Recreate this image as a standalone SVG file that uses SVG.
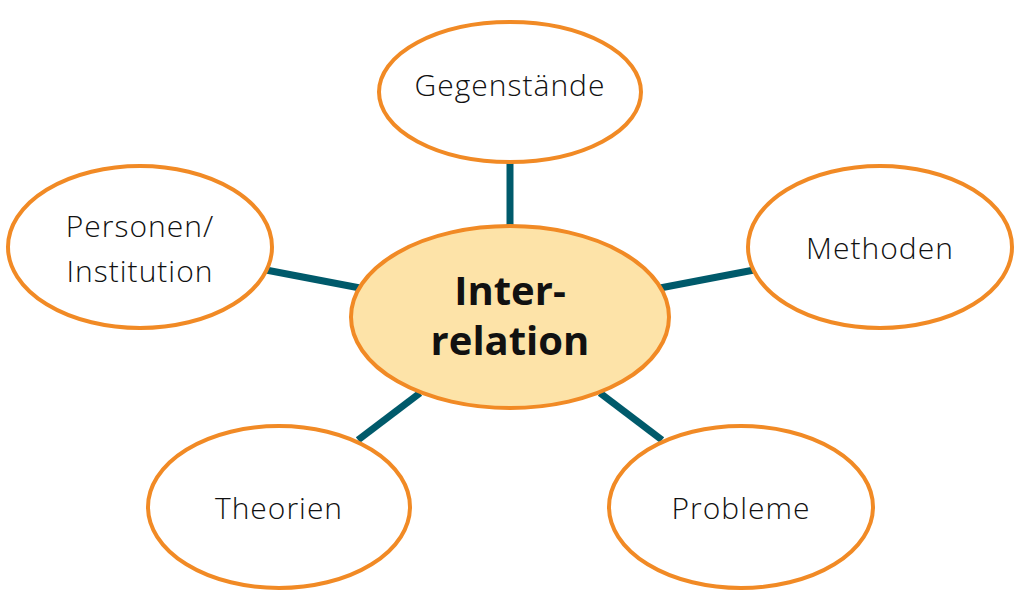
<svg xmlns="http://www.w3.org/2000/svg" width="1024" height="590" viewBox="0 0 1024 590">
<style>
.n{fill:#fff;stroke:#f18a25;stroke-width:4}
.c{fill:#fde3a8;stroke:#f18a25;stroke-width:4}
.t{font-family:"Open Sans","Noto Sans",sans-serif;font-weight:300;font-size:30px;fill:#111;text-anchor:middle;dominant-baseline:central;letter-spacing:1px}
.b{font-family:"Open Sans","Noto Sans",sans-serif;font-weight:700;font-size:40px;fill:#111;text-anchor:middle;dominant-baseline:central}
#connectors line{stroke:#005a6b;stroke-width:7}
</style>
<rect width="1024" height="590" fill="#fff"/>
<g id="connectors">
<line x1="510" y1="160" x2="510" y2="228"/>
<line x1="266" y1="270" x2="360" y2="288"/>
<line x1="660" y1="288" x2="754" y2="270"/>
<line x1="358" y1="440" x2="420" y2="393"/>
<line x1="600" y1="393" x2="662" y2="440"/>
</g>
<g id="center"><ellipse class="c" cx="510" cy="317" rx="159" ry="91"/><text class="b" x="510" y="289">Inter-</text><text class="b" x="510" y="339">relation</text></g>
<g id="gegenstaende"><ellipse class="n" cx="510" cy="92" rx="131" ry="70"/><text class="t" x="510" y="84">Gegenstände</text></g>
<g id="methoden"><ellipse class="n" cx="880" cy="247" rx="132" ry="81"/><text class="t" x="880" y="247">Methoden</text></g>
<g id="personen"><ellipse class="n" cx="140" cy="247" rx="132" ry="81"/><text class="t" x="140" y="225">Personen/</text><text class="t" x="140" y="270">Institution</text></g>
<g id="theorien"><ellipse class="n" cx="279" cy="507" rx="131" ry="81"/><text class="t" x="279" y="507">Theorien</text></g>
<g id="probleme"><ellipse class="n" cx="741" cy="507" rx="132" ry="81"/><text class="t" x="741" y="507">Probleme</text></g>
</svg>
